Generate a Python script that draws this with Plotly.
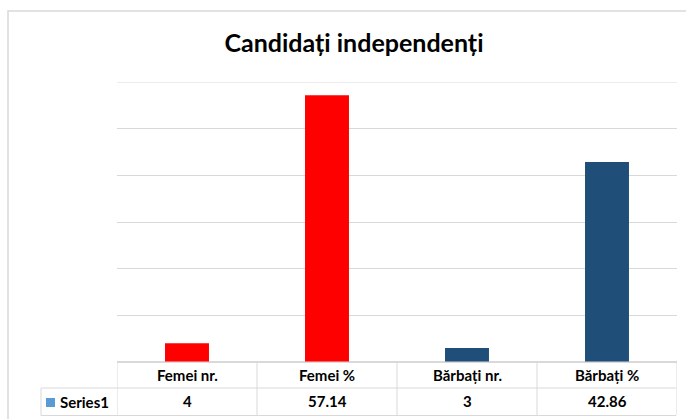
import plotly.graph_objects as go

categories = ["Femei nr.", "Femei %", "Bărbați nr.", "Bărbați %"]
values = [4, 57.14, 3, 42.86]
bar_colors = ["#FF0000", "#FF0000", "#1F4E79", "#1F4E79"]
series_name = "Series1"
title_text = "Candidați independenți"

W, H = 686, 419
L, R, T, B = 117, 9, 82, 57
pw, ph = W - L - R, H - T - B
YMAX = 60

def px_x(p):  # pixel x -> paper x
    return (p - L) / pw

def px_y(p):  # pixel y -> paper y
    return (H - B - p) / ph

FONT = "Lato"
grid = "#D9D9D9"

fig = go.Figure(go.Bar(
    x=categories, y=values, marker=dict(color=bar_colors, line=dict(width=0)),
    width=0.314, showlegend=False,
))

shapes = []
line = dict(color=grid, width=1)
# chart border
shapes.append(dict(type="rect", xref="paper", yref="paper",
                   x0=px_x(8), x1=px_x(700), y0=px_y(430), y1=px_y(11),
                   line=dict(color="#D9D9D9", width=1.5), layer="below"))
# top gridline
shapes.append(dict(type="line", xref="paper", yref="y", x0=0, x1=1, y0=YMAX, y1=YMAX, line=line, layer="below"))
# table horizontal lines
y_top, y_mid, y_bot = 0, px_y(388), px_y(415.5)
shapes.append(dict(type="line", xref="x", yref="paper", x0=-0.5, x1=len(categories) - 0.5, y0=y_top, y1=y_top, line=line))
shapes.append(dict(type="line", xref="paper", yref="paper", x0=px_x(41), x1=1 - 1 / pw, y0=y_mid, y1=y_mid, line=line))
shapes.append(dict(type="line", xref="paper", yref="paper", x0=px_x(41), x1=1 - 1 / pw, y0=y_bot, y1=y_bot, line=line))
# verticals
for i in range(len(categories) + 1):
    shapes.append(dict(type="line", xref="x", yref="paper", x0=i - 0.5, x1=i - 0.5, y0=y_top, y1=y_bot, line=line))
shapes.append(dict(type="line", xref="paper", yref="paper", x0=px_x(41), x1=px_x(41), y0=y_mid, y1=y_bot, line=line))
# legend key
shapes.append(dict(type="rect", xref="paper", yref="paper", x0=px_x(46), x1=px_x(55), y0=px_y(407), y1=px_y(398),
                   fillcolor="#5B9BD5", line=dict(width=0)))

annotations = []
for c, v in zip(categories, values):
    annotations.append(dict(x=c, xref="x", y=px_y(375), yref="paper", text=f"<b>{c}</b>", showarrow=False,
                            font=dict(family=FONT, size=15, color="#000000"), yanchor="middle"))
    annotations.append(dict(x=c, xref="x", y=px_y(401), yref="paper", text=f"<b>{v:g}</b>", showarrow=False,
                            font=dict(family=FONT, size=15, color="#000000"), yanchor="middle"))
annotations.append(dict(x=px_x(58), xref="paper", y=px_y(402), yref="paper", text=f"<b>{series_name}</b>",
                        showarrow=False, xanchor="left", yanchor="middle",
                        font=dict(family=FONT, size=15, color="#000000")))

fig.update_layout(
    width=W, height=H,
    margin=dict(l=L, r=R, t=T, b=B, autoexpand=False),
    paper_bgcolor="white", plot_bgcolor="white",
    title=dict(text=f"<b>{title_text}</b>", x=354 / W, xanchor="center", xref="container",
               y=1 - 43 / H, yanchor="middle", yref="container",
               font=dict(family=FONT, size=25, color="#000000")),
    xaxis=dict(showticklabels=False, showgrid=False, zeroline=False, showline=False,
               range=[-0.5, len(categories) - 0.5]),
    yaxis=dict(range=[0, YMAX], dtick=10, showticklabels=False, showgrid=True, gridcolor=grid,
               gridwidth=1, zeroline=True, zerolinecolor=grid, showline=False),
    bargap=0.686,
    shapes=shapes, annotations=annotations,
)

fig.write_html(
    "out.html",
    config={"displayModeBar": False},
    post_script="document.documentElement.style.margin='0';document.body.style.margin='0';"
                "document.body.style.overflow='hidden';",
)
